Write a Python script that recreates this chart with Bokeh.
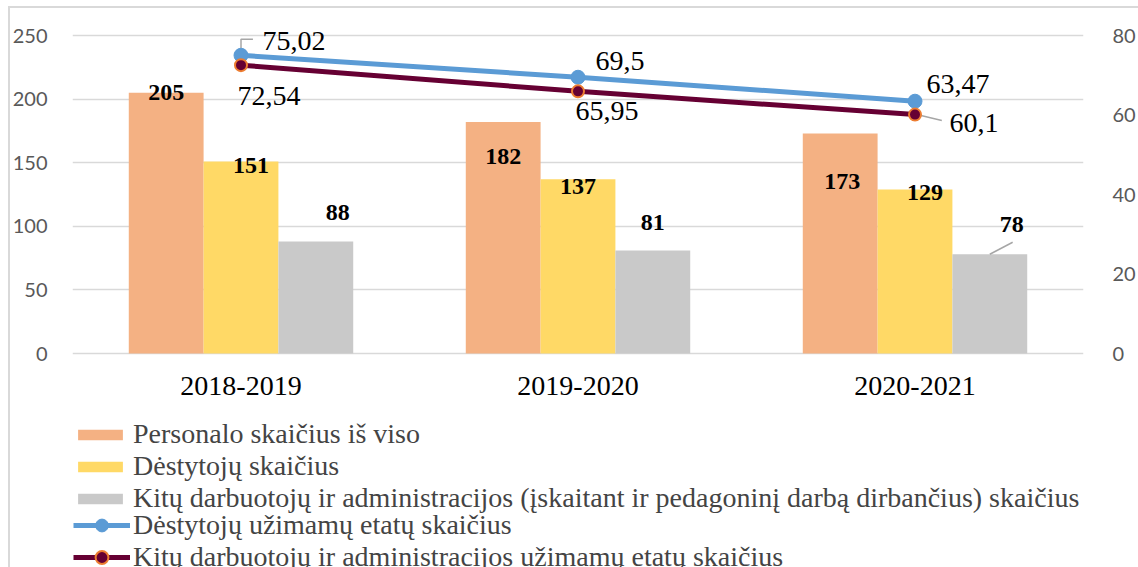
from bokeh.plotting import figure
from bokeh.models import (Range1d, LinearAxis, FactorRange, Legend, LegendItem,
                          ColumnDataSource, FixedTicker)
from bokeh.transform import dodge
from bokeh.core.properties import value
from bokeh.embed import file_html
from bokeh.resources import INLINE

# ---------------- data ----------------
categories = ["2018-2019", "2019-2020", "2020-2021"]
personalo = [205, 182, 173]
destytoju = [151, 137, 129]
kitu = [88, 81, 78]
destytoju_etatai = [75.02, 69.5, 63.47]
kitu_etatai = [72.54, 65.95, 60.1]
left_ticks = [0, 50, 100, 150, 200, 250]
right_ticks = [0, 20, 40, 60, 80]
series_names = [
    "Personalo skaičius iš viso",
    "Dėstytojų skaičius",
    "Kitų darbuotojų ir administracijos (įskaitant ir pedagoninį darbą dirbančius) skaičius",
    "Dėstytojų užimamų etatų skaičius",
    "Kitų darbuotojų ir administracijos užimamų etatų skaičius",
]

# ---------------- label placement (screen px, +y is down) ----------------
pers_dx, pers_dy = [0, 0, 2], [0, 35, 48]
dest_dx, dest_dy = [10, 0, 10], [4, 7, 3]
kitu_dx, kitu_dy = [22, 0, 22], [-29, -28, -30]
de_dx, de_dy = [53, 42, 43], [-14, -16, -17]
ke_dx, ke_dy = [28, 29, 59], [31, 20, 8]

# ---------------- layout ----------------
W, H = 1138, 567
ML, MR, MT = 72, 49, 8
TOP_GAP = 27              # frame space above the max gridline
FW = W - ML - MR          # frame width
PLOT_H = 318              # height of the value area (0..max)
BW = 0.222
PX_X = FW / len(categories)
PX_L = PLOT_H / 250.0
PX_R = PLOT_H / 80.0
EXTRA = H - MT - TOP_GAP - PLOT_H   # frame space below the zero line

C_OR, C_YE, C_GR = "#F4B183", "#FFD966", "#C9C9C9"
C_BL, C_MA, C_MO = "#5B9BD5", "#660033", "#ED7D31"
SERIF = value("Liberation Serif")


def fmt(v):
    return ("%g" % v).replace(".", ",")


src = ColumnDataSource(dict(
    cat=categories,
    personalo=personalo, destytoju=destytoju, kitu=kitu,
    de=destytoju_etatai, ke=kitu_etatai,
    personalo_l=[str(v) for v in personalo],
    destytoju_l=[str(v) for v in destytoju],
    kitu_l=[str(v) for v in kitu],
    de_l=[fmt(v) for v in destytoju_etatai],
    ke_l=[fmt(v) for v in kitu_etatai],
    pdx=pers_dx, pdy=pers_dy, ddx=dest_dx, ddy=dest_dy, kdx=kitu_dx, kdy=kitu_dy,
    dedx=de_dx, dedy=de_dy, kedx=ke_dx, kedy=ke_dy,
))

p = figure(x_range=FactorRange(*categories, range_padding=0, factor_padding=0),
           y_range=Range1d(-EXTRA / PX_L, 250 + TOP_GAP / PX_L), width=W, height=H,
           output_backend="svg", toolbar_location=None,
           min_border_left=ML, min_border_right=MR, min_border_top=MT, min_border_bottom=0)
p.extra_y_ranges = {"right": Range1d(-EXTRA / PX_R, 80 + TOP_GAP / PX_R)}
p.outline_line_color = None
p.background_fill_color = None
p.border_fill_color = None
p.styles = {
    "background-color": "white",
    "background-image": "linear-gradient(#D9D9D9, #D9D9D9), linear-gradient(#D9D9D9, #D9D9D9)",
    "background-repeat": "no-repeat",
    "background-size": "calc(100% - 8px) 2px, 2px calc(100% - 6px)",
    "background-position": "8px 6px, 8px 6px",
}

# axes
xa = p.xaxis[0]
xa.fixed_location = 0
xa.axis_line_color = None
xa.major_tick_line_color = None
xa.minor_tick_line_color = None
xa.major_label_text_font = "Liberation Serif"
xa.major_label_text_font_size = "28px"
xa.major_label_text_color = "black"
xa.major_label_standoff = 17

p.yaxis.ticker = FixedTicker(ticks=left_ticks)
ax_r = LinearAxis(y_range_name="right", ticker=FixedTicker(ticks=right_ticks))
p.add_layout(ax_r, "right")
for ax, so in ((p.yaxis[0], 19), (ax_r, 23)):
    ax.axis_line_color = None
    ax.major_tick_line_color = None
    ax.minor_tick_line_color = None
    ax.major_label_text_font = "Lato"
    ax.major_label_text_font_size = "20px"
    ax.major_label_text_color = "#595959"
    ax.major_label_standoff = so

p.xgrid.visible = False
p.ygrid.ticker = FixedTicker(ticks=left_ticks)
p.ygrid.grid_line_color = "#D9D9D9"
p.ygrid.grid_line_width = 1.5

# bars
r1 = p.vbar(x=dodge("cat", -BW, range=p.x_range), top="personalo", width=BW,
            source=src, fill_color=C_OR, line_color=None)
r2 = p.vbar(x=dodge("cat", 0, range=p.x_range), top="destytoju", width=BW,
            source=src, fill_color=C_YE, line_color=None)
r3 = p.vbar(x=dodge("cat", BW, range=p.x_range), top="kitu", width=BW,
            source=src, fill_color=C_GR, line_color=None)

# leader lines (annotation lines derived from data values + pixel offsets)
i0, i2 = 0, 2
p.line(x=[i0 + 0.5, i0 + 0.5, i0 + 0.5 + 12 / PX_X],
       y=[destytoju_etatai[i0] + 7 / PX_R, destytoju_etatai[i0] + 16 / PX_R,
          destytoju_etatai[i0] + 16 / PX_R],
       y_range_name="right", line_color="#A6A6A6", line_width=1.5)
p.line(x=[i2 + 0.5 + 6 / PX_X, i2 + 0.5 + 27 / PX_X],
       y=[kitu_etatai[i2] - 1 / PX_R, kitu_etatai[i2] - 6 / PX_R],
       y_range_name="right", line_color="#A6A6A6", line_width=1.5)
p.line(x=[i2 + 0.5 + BW, i2 + 0.5 + BW + 23 / PX_X],
       y=[kitu[i2], kitu[i2] + 12 / PX_L],
       line_color="#A6A6A6", line_width=1.5)

# lines
l1 = p.line("cat", "de", source=src, y_range_name="right", line_color=C_BL, line_width=5)
m1 = p.scatter("cat", "de", source=src, y_range_name="right", size=14,
               fill_color=C_BL, line_color=C_BL, line_width=1)
l2 = p.line("cat", "ke", source=src, y_range_name="right", line_color=C_MA, line_width=5)
m2 = p.scatter("cat", "ke", source=src, y_range_name="right", size=12,
               fill_color=C_MA, line_color=C_MO, line_width=2)

# bar labels
for col, off, dx, dy in (("personalo", -BW, "pdx", "pdy"),
                         ("destytoju", 0, "ddx", "ddy"),
                         ("kitu", BW, "kdx", "kdy")):
    p.text(x=dodge("cat", off, range=p.x_range), y=col, text=col + "_l",
           x_offset=dx, y_offset=dy, source=src,
           text_font=SERIF, text_font_style="bold", text_font_size="24px",
           text_align="center", text_baseline="middle", text_color="black")

# line labels
for col, dx, dy in (("de", "dedx", "dedy"), ("ke", "kedx", "kedy")):
    p.text(x="cat", y=col, text=col + "_l", x_offset=dx, y_offset=dy,
           y_range_name="right", source=src,
           text_font=SERIF, text_font_size="28px",
           text_align="center", text_baseline="middle", text_color="black")

leg_common = dict(orientation="vertical", padding=0, margin=0,
                  label_height=30, label_text_font="Liberation Serif",
                  label_text_font_size="28px", label_text_baseline="middle",
                  border_line_color=None, background_fill_alpha=0)
leg_bars = Legend(items=[
    LegendItem(label=series_names[0], renderers=[r1]),
    LegendItem(label=series_names[1], renderers=[r2]),
    LegendItem(label=series_names[2], renderers=[r3]),
], location=(0, 53), spacing=-3, glyph_width=56, glyph_height=13, label_standoff=5,
    **leg_common)
leg_lines = Legend(items=[
    LegendItem(label=series_names[3], renderers=[l1, m1]),
    LegendItem(label=series_names[4], renderers=[l2, m2]),
], location=(1, -6), spacing=-2, glyph_width=57, glyph_height=32, label_standoff=3,
    **leg_common)
p.add_layout(leg_bars)
p.add_layout(leg_lines)

open("out.html", "w").write(file_html(p, INLINE))
